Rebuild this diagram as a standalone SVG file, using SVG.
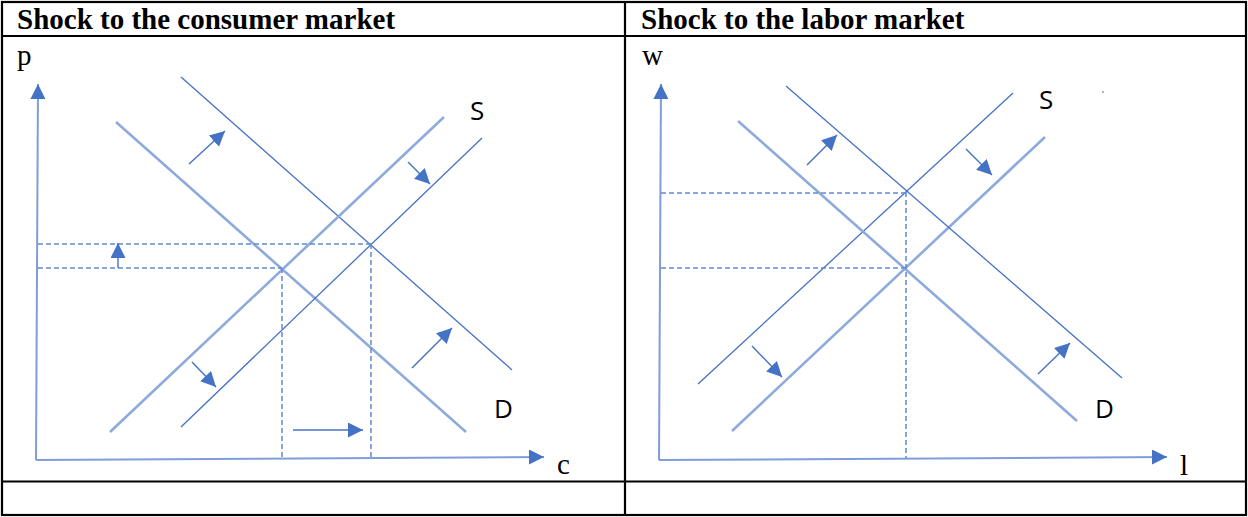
<svg xmlns="http://www.w3.org/2000/svg" width="1248" height="517" viewBox="0 0 1248 517">
  <style>
    .grid { stroke: #000; stroke-width: 2.2; fill: none; }
    .hdr { font-family: "Liberation Serif", "Times New Roman", serif; font-weight: bold; font-size: 29px; fill: #000; }
    .ax { font-family: "Liberation Serif", "Times New Roman", serif; font-size: 29px; fill: #000; }
    .lbl { font-family: "Open Sans", "Liberation Sans", sans-serif; font-size: 26px; fill: #000; }
    .axis { stroke: #7F9ED9; stroke-width: 2; fill: none; marker-end: url(#axHead); }
    .old { stroke: #8EAADC; stroke-width: 2.6; fill: none; stroke-linecap: butt; }
    .new { stroke: #4472C4; stroke-width: 1.3; fill: none; }
    .dash { stroke: #6089D0; stroke-width: 1.5; stroke-dasharray: 5 3; fill: none; }
    .shift { stroke: #4472C4; stroke-width: 1.4; fill: none; marker-end: url(#shHead); }
  </style>
  <defs>
    <marker id="axHead" markerUnits="userSpaceOnUse" markerWidth="16" markerHeight="16" refX="15" refY="7.5" orient="auto" viewBox="0 0 16 16">
      <path d="M0,0 L15,7.5 L0,15 z" fill="#4472C4"/>
    </marker>
    <marker id="shHead" markerUnits="userSpaceOnUse" markerWidth="16" markerHeight="16" refX="15" refY="7.5" orient="auto" viewBox="0 0 16 16">
      <path d="M0,0 L15,7.5 L0,15 z" fill="#4472C4"/>
    </marker>
  </defs>

  <rect id="table" x="0" y="0" width="1248" height="517" fill="#fff"/>

  <g id="table-grid" class="grid">
    <rect x="2" y="2" width="1244" height="513"/>
    <line x1="2" y1="36" x2="1246" y2="36"/>
    <line x1="2" y1="481.5" x2="1246" y2="481.5"/>
    <line x1="625" y1="2" x2="625" y2="515"/>
  </g>

  <g id="header-left"><text class="hdr" x="17" y="29">Shock to the consumer market</text></g>
  <g id="header-right"><text class="hdr" x="641" y="29">Shock to the labor market</text></g>

  <!-- Left panel: consumer market -->
  <g id="left-axes">
    <text class="ax" x="17" y="65">p</text>
    <text class="ax" x="557" y="474">c</text>
    <line class="axis" x1="36" y1="460" x2="38" y2="84"/>
    <line class="axis" x1="36" y1="460" x2="544" y2="457"/>
  </g>
  <g id="left-curves">
    <line class="old" x1="116" y1="122" x2="466" y2="432"/>
    <line class="new" x1="181" y1="77" x2="512" y2="370"/>
    <line class="old" x1="110" y1="432" x2="444" y2="117"/>
    <line class="new" x1="181" y1="427" x2="482" y2="138"/>
    <text class="lbl" x="470" y="120">S</text>
    <text class="lbl" x="494" y="418">D</text>
  </g>
  <g id="left-guides">
    <line class="dash" x1="38" y1="244" x2="371" y2="244"/>
    <line class="dash" x1="38" y1="268" x2="282" y2="268"/>
    <line class="dash" x1="282" y1="268" x2="282" y2="458"/>
    <line class="dash" x1="371" y1="244" x2="371" y2="457"/>
  </g>
  <g id="left-shifts">
    <line class="shift" x1="118" y1="268" x2="118" y2="243"/>
    <line class="shift" x1="189" y1="164" x2="225" y2="131"/>
    <line class="shift" x1="408" y1="162" x2="430" y2="184"/>
    <line class="shift" x1="192" y1="362" x2="216" y2="387"/>
    <line class="shift" x1="412" y1="368" x2="452" y2="328"/>
    <line class="shift" x1="293" y1="430" x2="363" y2="430"/>
  </g>

  <!-- Right panel: labor market -->
  <g id="right-axes">
    <text class="ax" x="642" y="65">w</text>
    <text class="ax" x="1180" y="475">l</text>
    <line class="axis" x1="659" y1="460" x2="661" y2="84"/>
    <line class="axis" x1="659" y1="460" x2="1167" y2="457"/>
  </g>
  <g id="right-curves">
    <line class="new" x1="698" y1="384" x2="1013" y2="93"/>
    <line class="old" x1="732" y1="431" x2="1045" y2="137"/>
    <line class="new" x1="786" y1="86" x2="1122" y2="378"/>
    <line class="old" x1="738" y1="121" x2="1077" y2="421"/>
    <text class="lbl" x="1039" y="109">S</text>
    <text class="lbl" x="1095" y="418">D</text>
    <circle cx="1103" cy="92" r="1" fill="#999"/>
  </g>
  <g id="right-guides">
    <line class="dash" x1="661" y1="193" x2="906" y2="193"/>
    <line class="dash" x1="661" y1="268" x2="906" y2="268"/>
    <line class="dash" x1="906" y1="192" x2="906" y2="458"/>
  </g>
  <g id="right-shifts">
    <line class="shift" x1="807" y1="165" x2="837" y2="135"/>
    <line class="shift" x1="966" y1="149" x2="992" y2="175"/>
    <line class="shift" x1="752" y1="346" x2="782" y2="377"/>
    <line class="shift" x1="1038" y1="374" x2="1070" y2="343"/>
  </g>
</svg>
